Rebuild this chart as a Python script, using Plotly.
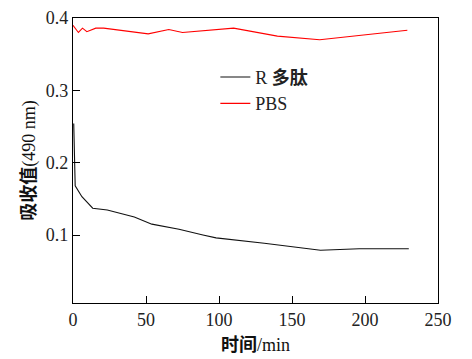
import plotly.graph_objects as go

# R peptide (black) series
r_time = [0.5, 1.5, 6.1, 9.6, 13.5, 23.5, 42, 54, 72.6, 89, 98, 131, 149.6, 169.5, 196, 230]
r_abs = [0.254, 0.168, 0.153, 0.146, 0.137, 0.1345, 0.125, 0.115, 0.108, 0.100, 0.096, 0.0885, 0.084, 0.079, 0.081, 0.081]

# PBS (red) series
pbs_time = [0, 3.7, 6.5, 9.5, 15.6, 21, 51.5, 65.6, 75, 110, 140, 169, 229]
pbs_abs = [0.390, 0.380, 0.386, 0.381, 0.386, 0.386, 0.378, 0.384, 0.380, 0.386, 0.375, 0.370, 0.383]

x_ticks = [0, 50, 100, 150, 200, 250]
y_ticks = [0.1, 0.2, 0.3, 0.4]

serif = "Liberation Serif"
cjk = "<b><span style='font-family:Noto Sans CJK SC'>{}</span></b>"

fig = go.Figure()
fig.add_trace(go.Scatter(x=r_time, y=r_abs, mode="lines",
                         name="R " + cjk.format("多肽"),
                         line=dict(color="#111111", width=1.1)))
fig.add_trace(go.Scatter(x=pbs_time, y=pbs_abs, mode="lines", name="PBS",
                         line=dict(color="#ff0000", width=1.1)))

axis_common = dict(showline=True, linecolor="black", linewidth=1.2, mirror=True,
                   ticks="inside", ticklen=7, tickwidth=1.2, tickcolor="black",
                   showgrid=False, zeroline=False, automargin=False,
                   tickfont=dict(family=serif, size=18, color="#222222"))

fig.update_xaxes(range=[0, 250], tickvals=x_ticks, ticktext=[str(v) for v in x_ticks],
                 title=dict(text=cjk.format("时间") + "/min",
                            font=dict(family=serif, size=18, color="#111111"), standoff=2),
                 **axis_common)
fig.update_yaxes(range=[0.006, 0.4], tickvals=y_ticks, ticktext=["0.1", "0.2", "0.3", "0.4"],
                 title=dict(text=cjk.format("吸收值") + "(490 nm)",
                            font=dict(family=serif, size=18, color="#111111"), standoff=5),
                 **axis_common)

# page body has an 8px default margin, so the figure is sized to fit the window
fig.update_layout(
    width=464, height=351,
    margin=dict(l=65, r=34, t=10, b=56, autoexpand=False),
    paper_bgcolor="white", plot_bgcolor="white",
    font=dict(family=serif, size=18, color="#222222"),
    legend=dict(x=0.39, y=0.857, xanchor="left", yanchor="top",
                bgcolor="rgba(0,0,0,0)", font=dict(family=serif, size=18, color="#222222"),
                tracegroupgap=0, itemwidth=30),
    showlegend=True,
)

fig.write_html("out.html")
